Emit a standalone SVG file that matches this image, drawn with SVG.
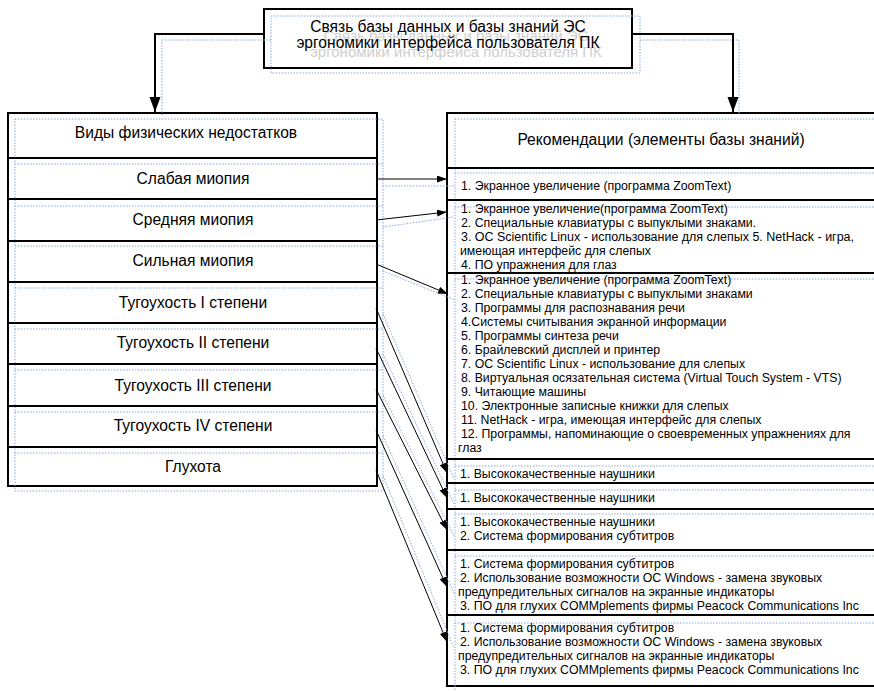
<svg xmlns="http://www.w3.org/2000/svg" width="874" height="691" viewBox="0 0 874 691">
<defs>
<marker id="ah" markerUnits="userSpaceOnUse" markerWidth="11" markerHeight="8" refX="10" refY="3.5" orient="auto"><path d="M0,0 L10,3.5 L0,7 z" fill="#000"/></marker>
<marker id="ahb" markerUnits="userSpaceOnUse" markerWidth="16" markerHeight="12" refX="15" refY="5.5" orient="auto"><path d="M0,0 L15,5.5 L0,11 z" fill="#000"/></marker>
</defs>
<style>
.box{fill:#fff;stroke:#000;stroke-width:2}
.dot{fill:none;stroke:#8aa6dc;stroke-width:1;stroke-dasharray:1.5 1.5}
.t{font-family:"Liberation Sans",Arial,sans-serif;fill:#000}
.big{font-size:15.6px}
.sm{font-size:12.3px}
.ghost{font-family:"Liberation Sans",Arial,sans-serif;font-size:15px;fill:#cfcfcf}
.c{fill:none;stroke:#000;stroke-width:1}
.cb{fill:none;stroke:#000;stroke-width:2}
</style>
<rect width="874" height="691" fill="#fff"/>

<g id="title">
<rect class="box" x="264" y="9" width="368" height="59"/>
<text class="ghost" x="456" y="41" text-anchor="middle">Связь базы данных и базы знаний ЭС</text>
<text class="ghost" x="456" y="57" text-anchor="middle">эргономики интерфейса пользователя ПК</text>
<rect class="dot" x="271" y="16" width="369" height="57"/>
<text class="t big" x="448" y="32" text-anchor="middle">Связь базы данных и базы знаний ЭС</text>
<text class="t big" x="448" y="48" text-anchor="middle">эргономики интерфейса пользователя ПК</text>
</g>

<g id="left-column">
<rect class="box" x="8" y="113" width="369" height="373"/>
<rect class="dot" x="15" y="119" width="368" height="372"/>
<g id="l-header"><text class="t big" x="186" y="138" text-anchor="middle">Виды физических недостатков</text></g>
<g id="l-weak"><line class="cb" x1="8" y1="158" x2="377" y2="158"/><line class="dot" x1="15" y1="164" x2="383" y2="164"/><text class="t big" x="193" y="184" text-anchor="middle">Слабая миопия</text></g>
<g id="l-medium"><line class="cb" x1="8" y1="199" x2="377" y2="199"/><line class="dot" x1="15" y1="206" x2="383" y2="206"/><text class="t big" x="193" y="225" text-anchor="middle">Средняя миопия</text></g>
<g id="l-strong"><line class="cb" x1="8" y1="241" x2="377" y2="241"/><line class="dot" x1="15" y1="246" x2="383" y2="246"/><text class="t big" x="193" y="266" text-anchor="middle">Сильная миопия</text></g>
<g id="l-hear1"><line class="cb" x1="8" y1="282" x2="377" y2="282"/><line class="dot" x1="15" y1="288" x2="383" y2="288"/><text class="t big" x="193" y="308" text-anchor="middle">Тугоухость I степени</text></g>
<g id="l-hear2"><line class="cb" x1="8" y1="323" x2="377" y2="323"/><line class="dot" x1="15" y1="329" x2="383" y2="329"/><text class="t big" x="193" y="348" text-anchor="middle">Тугоухость II степени</text></g>
<g id="l-hear3"><line class="cb" x1="8" y1="364" x2="377" y2="364"/><line class="dot" x1="15" y1="370" x2="383" y2="370"/><text class="t big" x="193" y="391" text-anchor="middle">Тугоухость III степени</text></g>
<g id="l-hear4"><line class="cb" x1="8" y1="406" x2="377" y2="406"/><line class="dot" x1="15" y1="412" x2="383" y2="412"/><text class="t big" x="193" y="431" text-anchor="middle">Тугоухость IV степени</text></g>
<g id="l-deaf"><line class="cb" x1="8" y1="447" x2="377" y2="447"/><line class="dot" x1="15" y1="453" x2="383" y2="453"/><text class="t big" x="193" y="472" text-anchor="middle">Глухота</text></g>
</g>

<g id="right-column">
<rect class="box" x="447" y="113" width="440" height="573"/>
<rect class="dot" x="455" y="119" width="440" height="573"/>
<g id="r-header"><text class="t big" x="661" y="145" text-anchor="middle">Рекомендации (элементы базы знаний)</text></g>
<g id="r-weak"><line class="cb" x1="447" y1="168" x2="880" y2="168"/><line class="dot" x1="455" y1="173" x2="880" y2="173"/>
<text class="t sm" x="461" y="190">1. Экранное увеличение (программа ZoomText)</text></g>
<g id="r-medium"><line class="cb" x1="447" y1="200" x2="880" y2="200"/><line class="dot" x1="455" y1="207" x2="880" y2="207"/>
<text class="t sm" x="461" y="212.5">1. Экранное увеличение(программа ZoomText)</text>
<text class="t sm" x="461" y="226.5">2. Специальные клавиатуры с выпуклыми знаками.</text>
<text class="t sm" x="461" y="240.5" textLength="393" lengthAdjust="spacingAndGlyphs">3. ОС Scientific Linux - использование для слепых 5. NetHack - игра,</text>
<text class="t sm" x="460" y="254.5">имеющая интерфейс для слепых</text>
<text class="t sm" x="461" y="268.5">4. ПО упражнения для глаз</text></g>
<g id="r-strong"><line class="cb" x1="447" y1="273" x2="880" y2="273"/><line class="dot" x1="455" y1="279" x2="880" y2="279"/>
<text class="t sm" x="461" y="284">1. Экранное увеличение (программа ZoomText)</text>
<text class="t sm" x="461" y="298">2. Специальные клавиатуры с выпуклыми знаками</text>
<text class="t sm" x="461" y="312">3. Программы для распознавания речи</text>
<text class="t sm" x="461" y="326">4.Системы считывания экранной информации</text>
<text class="t sm" x="461" y="340">5. Программы синтеза речи</text>
<text class="t sm" x="461" y="354">6. Брайлевский дисплей и принтер</text>
<text class="t sm" x="461" y="368">7. ОС Scientific Linux - использование для слепых</text>
<text class="t sm" x="461" y="382">8. Виртуальная осязательная система (Virtual Touch System - VTS)</text>
<text class="t sm" x="461" y="396">9. Читающие машины</text>
<text class="t sm" x="461" y="410">10. Электронные записные книжки для слепых</text>
<text class="t sm" x="461" y="424">11. NetHack - игра, имеющая интерфейс для слепых</text>
<text class="t sm" x="461" y="438">12. Программы, напоминающие о своевременных упражнениях для</text>
<text class="t sm" x="458" y="452">глаз</text></g>
<g id="r-hear1"><line class="cb" x1="447" y1="459" x2="880" y2="459"/><line class="dot" x1="455" y1="466" x2="880" y2="466"/>
<text class="t sm" x="460" y="478">1. Высококачественные наушники</text></g>
<g id="r-hear2"><line class="cb" x1="447" y1="483" x2="880" y2="483"/><line class="dot" x1="455" y1="490" x2="880" y2="490"/>
<text class="t sm" x="460" y="502">1. Высококачественные наушники</text></g>
<g id="r-hear3"><line class="cb" x1="447" y1="509" x2="880" y2="509"/><line class="dot" x1="455" y1="514" x2="880" y2="514"/>
<text class="t sm" x="460" y="526">1. Высококачественные наушники</text>
<text class="t sm" x="460" y="540">2. Система формирования субтитров</text></g>
<g id="r-hear4"><line class="cb" x1="447" y1="550" x2="880" y2="550"/><line class="dot" x1="455" y1="556" x2="880" y2="556"/>
<text class="t sm" x="460" y="567.5">1. Система формирования субтитров</text>
<text class="t sm" x="460" y="581.5">2. Использование возможности ОС Windows - замена звуковых</text>
<text class="t sm" x="458" y="595.5">предупредительных сигналов на экранные индикаторы</text>
<text class="t sm" x="460" y="609.5">3. ПО для глухих COMMplements фирмы Peacock Communications Inc</text></g>
<g id="r-deaf"><line class="cb" x1="447" y1="615" x2="880" y2="615"/><line class="dot" x1="455" y1="623" x2="880" y2="623"/>
<text class="t sm" x="460" y="632">1. Система формирования субтитров</text>
<text class="t sm" x="460" y="646">2. Использование возможности ОС Windows - замена звуковых</text>
<text class="t sm" x="458" y="660">предупредительных сигналов на экранные индикаторы</text>
<text class="t sm" x="460" y="674">3. ПО для глухих COMMplements фирмы Peacock Communications Inc</text></g>
</g>

<g id="connectors">
<polyline class="dot" points="271,40 162,40 162,115"/>
<polyline class="dot" points="640,40 739,40 739,115"/>
<polyline class="cb" points="264,34 155,34 155,112" marker-end="url(#ahb)"/>
<polyline class="cb" points="632,34 733,34 733,112" marker-end="url(#ahb)"/>
<line class="dot" x1="383" y1="186" x2="454" y2="186"/>
<line class="dot" x1="383" y1="227" x2="454" y2="217"/>
<line class="dot" x1="383" y1="271" x2="455" y2="300"/>
<line class="dot" x1="383" y1="314" x2="454" y2="479"/>
<line class="dot" x1="383" y1="354" x2="454" y2="504"/>
<line class="dot" x1="383" y1="395" x2="454" y2="536"/>
<line class="dot" x1="383" y1="436" x2="454" y2="593"/>
<line class="dot" x1="383" y1="476" x2="454" y2="648"/>
<line class="c" x1="376" y1="179" x2="447" y2="179" marker-end="url(#ah)"/>
<line class="c" x1="376" y1="220" x2="447" y2="212" marker-end="url(#ah)"/>
<line class="c" x1="376" y1="264" x2="448" y2="294" marker-end="url(#ah)"/>
<line class="c" x1="376" y1="308" x2="447" y2="473" marker-end="url(#ah)"/>
<line class="c" x1="376" y1="348" x2="447" y2="498" marker-end="url(#ah)"/>
<line class="c" x1="376" y1="389" x2="447" y2="530" marker-end="url(#ah)"/>
<line class="c" x1="376" y1="430" x2="447" y2="587" marker-end="url(#ah)"/>
<line class="c" x1="376" y1="470" x2="447" y2="642" marker-end="url(#ah)"/>
</g>
</svg>
